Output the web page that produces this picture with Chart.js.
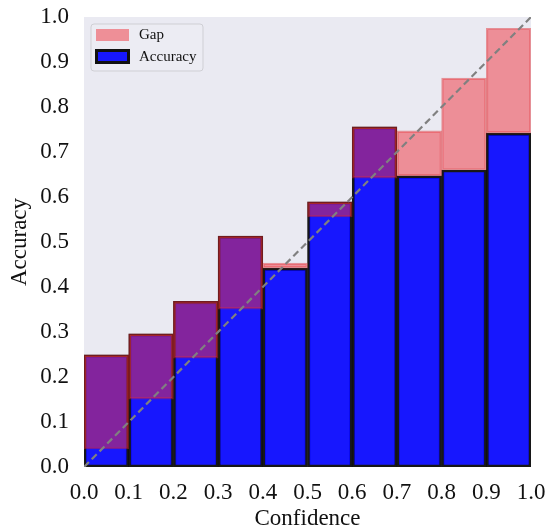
<!DOCTYPE html>
<html>
<head>
<meta charset="utf-8">
<script src="https://cdn.jsdelivr.net/npm/chart.js@4.4.1/dist/chart.umd.min.js"></script>
<style>
  html, body { margin: 0; padding: 0; background: #fff; }
</style>
</head>
<body>
<canvas id="chart" width="550" height="527"></canvas>
<script>
// reliability diagram, 10 bins
const binCenters = [0.05, 0.15, 0.25, 0.35, 0.45, 0.55, 0.65, 0.75, 0.85, 0.95];
const accuracy   = [0.249, 0.296, 0.368, 0.513, 0.442, 0.589, 0.756, 0.647, 0.660, 0.742];
const confidence = [0.040, 0.151, 0.242, 0.351, 0.453, 0.556, 0.642, 0.747, 0.864, 0.975];
const tickValues = [0, 0.1, 0.2, 0.3, 0.4, 0.5, 0.6, 0.7, 0.8, 0.9, 1.0];
const diagonal   = [0, 1];

const FONT = "'Liberation Serif', 'Times New Roman', serif";
const BG = "rgb(234,234,242)";
const GAP_FILL = "rgba(240,50,60,0.5)";
const GAP_EDGE = "rgba(225,35,40,0.45)";
const ACC_FILL = "rgba(0,0,255,0.9)";

const plotBg = {
  id: "plotBg",
  beforeDatasetsDraw(chart) {
    const { ctx, chartArea: a } = chart;
    ctx.save();
    ctx.fillStyle = BG;
    ctx.fillRect(a.left, a.top, a.right - a.left, a.bottom - a.top);
    ctx.restore();
  }
};

// legend sits inside the axes, top left
const insideLegend = {
  id: "insideLegend",
  afterDatasetsDraw(chart) {
    const { ctx, chartArea: a } = chart;
    const x0 = a.left + 7, y0 = a.top + 7;
    ctx.save();
    ctx.beginPath();
    ctx.roundRect(x0, y0, 112, 47, 3);
    ctx.fillStyle = "rgba(236,236,243,0.85)";
    ctx.fill();
    ctx.strokeStyle = "#cfcfd4";
    ctx.lineWidth = 1;
    ctx.stroke();

    const ds = chart.data.datasets;
    // Gap swatch
    ctx.fillStyle = ds[1].backgroundColor;
    ctx.fillRect(x0 + 5, y0 + 5, 33, 12);
    // Accuracy swatch
    ctx.fillStyle = ds[2].backgroundColor;
    ctx.fillRect(x0 + 4, y0 + 25, 35, 15);
    ctx.strokeStyle = "#111";
    ctx.lineWidth = 3;
    ctx.strokeRect(x0 + 5.5, y0 + 26.5, 32, 12);

    ctx.fillStyle = "#111";
    ctx.font = "15px " + FONT;
    ctx.textBaseline = "middle";
    ctx.fillText(ds[1].label, x0 + 48, y0 + 11);
    ctx.fillText(ds[2].label, x0 + 48, y0 + 33);
    ctx.restore();
  }
};

new Chart(document.getElementById("chart"), {
  type: "bar",
  data: {
    datasets: [
      {
        type: "line",
        label: "diag",
        data: diagonal.map(v => ({ x: v, y: v })),
        borderColor: "rgb(128,128,128)",
        borderWidth: 2.2,
        borderDash: [7, 4],
        pointRadius: 0,
        order: 0
      },
      {
        label: "Gap",
        data: binCenters.map((x, i) => ({
          x,
          y: [Math.min(accuracy[i], confidence[i]), Math.max(accuracy[i], confidence[i])]
        })),
        backgroundColor: GAP_FILL,
        borderColor: GAP_EDGE,
        borderWidth: 1.5,
        borderSkipped: false,
        barPercentage: 1,
        categoryPercentage: 1,
        grouped: false,
        order: 1
      },
      {
        label: "Accuracy",
        data: binCenters.map((x, i) => ({ x, y: accuracy[i] })),
        backgroundColor: ACC_FILL,
        borderColor: "rgba(0,0,0,0.9)",
        borderWidth: 2.5,
        borderSkipped: false,
        barPercentage: 1,
        categoryPercentage: 1,
        grouped: false,
        order: 2
      }
    ]
  },
  options: {
    responsive: false,
    animation: false,
    devicePixelRatio: 1,
    layout: { padding: { top: 17, right: 19, left: 0, bottom: 0 } },
    plugins: {
      legend: { display: false },
      tooltip: { enabled: false }
    },
    scales: {
      x: {
        type: "linear",
        min: 0,
        max: 1,
        offset: false,
        grid: { display: false, drawTicks: false },
        border: { display: false },
        afterBuildTicks: s => { s.ticks = tickValues.map(v => ({ value: v })); },
        afterFit: s => { s.height = 60; s.paddingLeft = 0; s.paddingRight = 0; },
        ticks: {
          padding: 12,
          color: "#111",
          font: { family: FONT, size: 23 },
          maxRotation: 0,
          callback: v => Number(v).toFixed(1)
        },
        title: {
          display: true,
          text: "Confidence",
          color: "#111",
          font: { family: FONT, size: 23 },
          padding: { top: 0, bottom: -6 }
        }
      },
      y: {
        min: 0,
        max: 1,
        grid: { display: false, drawTicks: false },
        border: { display: false },
        afterBuildTicks: s => { s.ticks = tickValues.map(v => ({ value: v })); },
        afterFit: s => { s.width = 84; s.paddingTop = 0; s.paddingBottom = 0; },
        ticks: {
          padding: 15,
          color: "#111",
          font: { family: FONT, size: 23 },
          callback: v => Number(v).toFixed(1)
        },
        title: {
          display: true,
          text: "Accuracy",
          color: "#111",
          font: { family: FONT, size: 23 },
          padding: { top: 6, bottom: 0 }
        }
      }
    }
  },
  plugins: [plotBg, insideLegend]
});
</script>
</body>
</html>
